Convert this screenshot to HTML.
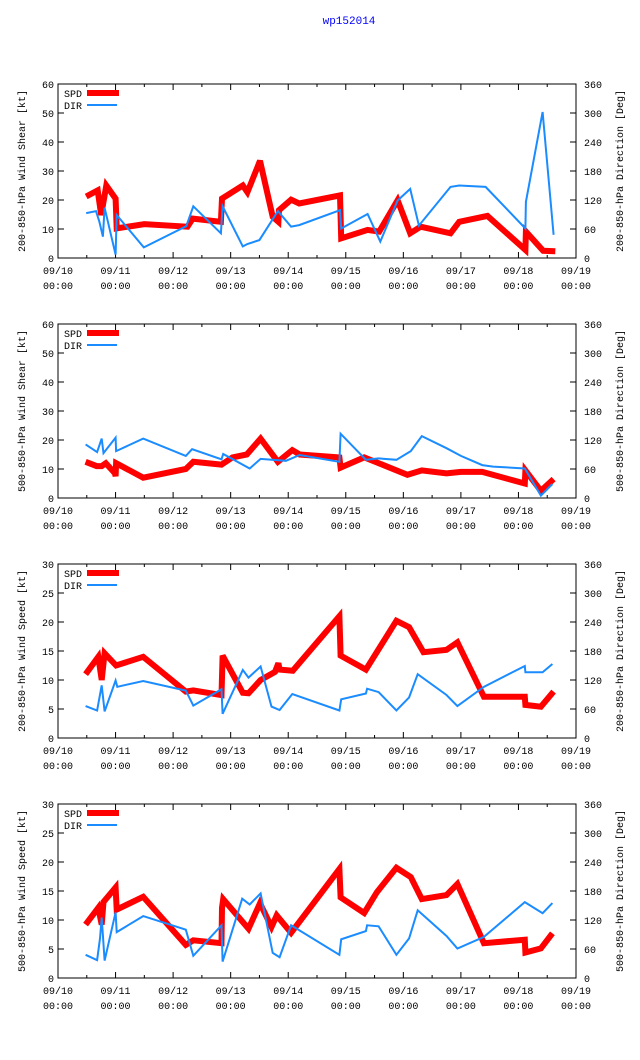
<!DOCTYPE html>
<html><head><meta charset="utf-8"><style>
body{margin:0;background:#fff;}
svg{display:block;font-family:"Liberation Mono","DejaVu Sans Mono",monospace;}
</style></head><body>
<svg id="chart" width="640" height="1060" xmlns="http://www.w3.org/2000/svg">
<text x="349" y="24" fill="#0000ff" font-size="11" text-anchor="middle">wp152014</text>
</svg>
<script>
// Time in days since 09/10 00:00
const xTickLabels = ["09/10","09/11","09/12","09/13","09/14","09/15","09/16","09/17","09/18","09/19"];
const p1SpdT = [0.49,0.69,0.75,0.84,1.0,1.02,1.5,2.25,2.34,2.83,2.85,3.21,3.29,3.51,3.73,3.83,3.84,4.05,4.19,4.9,4.92,5.38,5.58,5.9,6.12,6.3,6.82,6.97,7.46,8.12,8.13,8.43,8.64];
const p1SpdV = [21.2,23.3,14.8,25,20.5,10.2,11.7,10.8,13.6,12.5,20.5,25,22.7,33.5,14.2,12.5,16.5,20.1,18.8,21.6,6.8,9.7,9.1,19.9,8.5,10.8,8.5,12.5,14.5,2.8,9.1,2.5,2.3];
const p1DirT = [0.49,0.66,0.72,0.78,0.81,1.0,1.02,1.49,2.23,2.35,2.83,2.86,3.21,3.29,3.5,3.82,4.05,4.19,4.9,4.92,5.38,5.6,5.9,6.12,6.27,6.82,6.97,7.43,8.12,8.13,8.42,8.61];
const p1DirV = [93,97,75,44,104,7,89,22,66,107,51,107,24,29,37,97,65,68,99,61,91,34,119,143,67,147,150,147,61,116,302,48];
const p2SpdT = [0.48,0.67,0.76,0.83,0.99,1.0,1.01,1.48,2.22,2.35,2.84,3.03,3.28,3.52,3.82,4.07,4.2,4.89,4.91,5.32,6.07,6.32,6.75,7.0,7.37,8.11,8.12,8.39,8.61];
const p2SpdV = [12.5,11,11,12,8.5,7.5,12,7,10,12.5,11.5,14,15,20.5,12.5,16.5,15,14,10.5,14,8,9.5,8.5,9,9,5,9.5,2.5,6.5];
const p2DirT = [0.48,0.68,0.76,0.79,1.0,1.01,1.48,2.22,2.33,2.84,2.87,3.33,3.52,3.96,4.2,4.89,4.91,5.35,5.57,5.88,6.13,6.32,6.75,7.0,7.37,7.56,8.11,8.39,8.59];
const p2DirV = [111,95,123,93,125,97,123,87,101,80,91,61,81,77,89,75,133,79,82,79,97,128,103,87,68,65,61,5,29];
const p3SpdT = [0.48,0.7,0.76,0.81,1.01,1.48,2.22,2.35,2.84,2.86,3.21,3.31,3.52,3.77,3.83,3.85,4.08,4.89,4.91,5.35,5.88,6.1,6.35,6.75,6.94,7.4,8.11,8.12,8.39,8.61];
const p3SpdV = [11,14,10,14.6,12.5,14,8,8.2,7.4,14.2,7.8,7.7,10,11.4,12.9,11.8,11.6,21,14.2,11.8,20.2,19.1,14.8,15.2,16.5,7.1,7.1,5.7,5.4,8];
const p3DirT = [0.48,0.68,0.76,0.81,1.0,1.03,1.48,2.22,2.35,2.84,2.86,3.21,3.31,3.52,3.71,3.85,4.07,4.89,4.92,5.35,5.37,5.57,5.88,6.1,6.25,6.75,6.94,7.4,8.11,8.12,8.42,8.59];
const p3DirV = [66,57,109,55,119,106,118,98,67,101,50,141,125,148,65,58,91,57,80,92,102,95,57,84,132,89,66,106,149,136,136,153];
const p4SpdT = [0.48,0.7,0.76,0.79,1.0,1.02,1.48,2.22,2.35,2.84,2.85,2.87,3.31,3.51,3.71,3.8,4.05,4.89,4.91,5.32,5.54,5.88,6.13,6.32,6.75,6.94,7.4,8.11,8.12,8.39,8.59];
const p4SpdV = [9.2,12.1,9.2,13.1,15.6,11.8,14,5.7,6.5,6,12.1,13.6,8.5,12.9,8.8,10.8,7.8,18.8,13.9,11.2,14.8,19,17.4,13.6,14.3,16.2,6,6.6,4.4,5.1,7.7];
const p4DirT = [0.48,0.68,0.73,0.76,0.81,1.0,1.02,1.48,2.22,2.35,2.84,2.86,3.2,3.33,3.52,3.73,3.85,4.05,4.89,4.92,5.35,5.37,5.57,5.88,6.1,6.25,6.75,6.94,7.4,8.11,8.42,8.59];
const p4DirV = [48,37,82,125,36,136,95,128,100,46,109,34,164,152,175,52,43,109,48,80,97,109,107,48,82,140,87,61,85,157,134,155];
const leftMax = [60,60,30,30];
const leftStep = [10,10,5,5];
const leftTitles = ["200-850-hPa Wind Shear [kt]","500-850-hPa Wind Shear [kt]","200-850-hPa Wind Speed [kt]","500-850-hPa Wind Speed [kt]"];
const rightTitles = ["200-850-hPa Direction [Deg]","500-850-hPa Direction [Deg]","200-850-hPa Direction [Deg]","500-850-hPa Direction [Deg]"];
const rightTickLabels = ["0","60","120","180","240","300","360"];

const NS = "http://www.w3.org/2000/svg";
const svg = document.getElementById("chart");
function mk(tag, attrs, parent){const e=document.createElementNS(NS,tag);for(const k in attrs)e.setAttribute(k,attrs[k]);(parent||svg).appendChild(e);return e;}
const L=58,R=576,H=174;
const xScale = d => L + d*(R-L)/9;
const panels=[[p1SpdT,p1SpdV,p1DirT,p1DirV],[p2SpdT,p2SpdV,p2DirT,p2DirV],[p3SpdT,p3SpdV,p3DirT,p3DirV],[p4SpdT,p4SpdV,p4DirT,p4DirV]];
panels.forEach((pd,i)=>{
  const top=84+i*240, bot=top+H;
  const yL = v => bot - v/leftMax[i]*H;
  const yR = v => bot - v/360*H;
  const g=mk("g",{});
  
  
  const box=mk("rect",{x:L,y:top,width:R-L,height:H,fill:"none",stroke:"#000","stroke-width":1},g);
  
  
  // x ticks
  for(let h=0;h<=18;h++){
    const x=xScale(h/2), len=h%2?3:6;
    mk("line",{x1:x,y1:bot,x2:x,y2:bot-len,stroke:"#000"},g);
    mk("line",{x1:x,y1:top,x2:x,y2:top+len,stroke:"#000"},g);
  }
  xTickLabels.forEach((lab,k)=>{
    const x=xScale(k);
    const t=mk("text",{x:x,y:bot+16,"font-size":10,"text-anchor":"middle"},g);t.textContent=lab;
    
    
    const t2=mk("text",{x:x,y:bot+31,"font-size":10,"text-anchor":"middle"},g);t2.textContent="00:00";
    
    
  });
  for(let v=0;v<=leftMax[i];v+=leftStep[i]){
    const y=yL(v);
    mk("line",{x1:L,y1:y,x2:L+6,y2:y,stroke:"#000"},g);
    const t=mk("text",{x:L-4,y:y+4,"font-size":10,"text-anchor":"end"},g);t.textContent=String(v);
    
    
  }
  rightTickLabels.forEach(lab=>{
    const y=yR(+lab);
    mk("line",{x1:R,y1:y,x2:R-6,y2:y,stroke:"#000"},g);
    const t=mk("text",{x:R+8,y:y+4,"font-size":10},g);t.textContent=lab;
    
    
  });
  const cy=(top+bot)/2;
  const lt=mk("text",{x:0,y:0,"font-size":10,"text-anchor":"middle",transform:`translate(25,${cy}) rotate(-90)`},g);lt.textContent=leftTitles[i];
  
  
  const rt=mk("text",{x:0,y:0,"font-size":10,"text-anchor":"middle",transform:`translate(623,${cy}) rotate(-90)`},g);rt.textContent=rightTitles[i];
  
  
  // series
  const dirPts=pd[2].map((t,k)=>xScale(t).toFixed(1)+","+yR(pd[3][k]).toFixed(1)).join(" ");
  const spdPts=pd[0].map((t,k)=>xScale(t).toFixed(1)+","+yL(pd[1][k]).toFixed(1)).join(" ");
  const sp=mk("polyline",{points:spdPts,fill:"none",stroke:"#ff0000","stroke-width":6,"stroke-linejoin":"miter","stroke-miterlimit":3},g);
  
  
  const dp=mk("polyline",{points:dirPts,fill:"none",stroke:"#1a8cff","stroke-width":2},g);
  
  
  // legend
  const l1=mk("text",{x:64,y:top+13,"font-size":10},g);l1.textContent="SPD";
  
  
  mk("line",{x1:87,y1:top+9,x2:119,y2:top+9,stroke:"#ff0000","stroke-width":6},g);
  const l2=mk("text",{x:64,y:top+25,"font-size":10},g);l2.textContent="DIR";
  
  
  mk("line",{x1:87,y1:top+21,x2:117,y2:top+21,stroke:"#1a8cff","stroke-width":2},g);
});
</script>
</body></html>
